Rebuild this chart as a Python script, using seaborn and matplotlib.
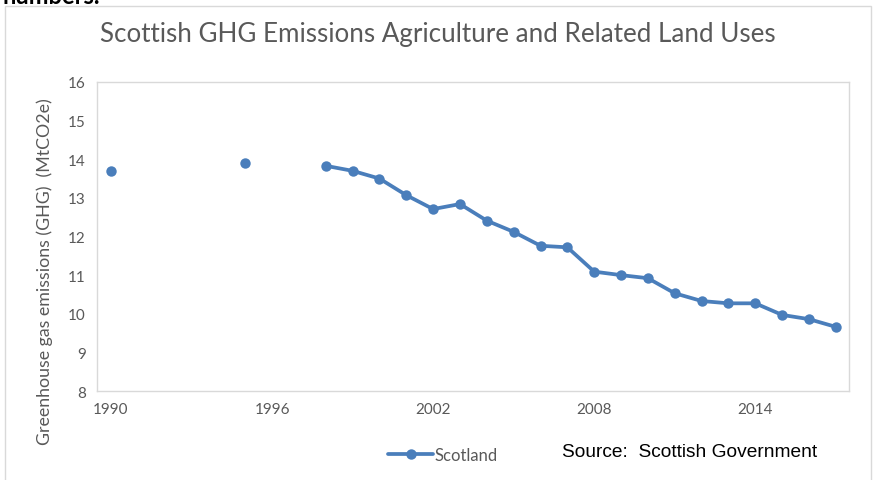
import numpy as np
import pandas as pd
import matplotlib
matplotlib.use("Agg")
import matplotlib.pyplot as plt
from matplotlib.lines import Line2D
from matplotlib.patches import Rectangle
import seaborn as sns

years = [1990, 1995, 1998, 1999, 2000, 2001, 2002, 2003, 2004, 2005, 2006, 2007,
         2008, 2009, 2010, 2011, 2012, 2013, 2014, 2015, 2016, 2017]
emissions = [13.70, 13.90, 13.83, 13.70, 13.50, 13.07, 12.71, 12.84, 12.41, 12.12, 11.76, 11.72,
             11.09, 11.00, 10.92, 10.53, 10.33, 10.27, 10.27, 9.97, 9.86, 9.66]
x_ticks = [1990, 1996, 2002, 2008, 2014]
y_ticks = [8, 9, 10, 11, 12, 13, 14, 15, 16]
series_name = "Scotland"

df = pd.DataFrame({"year": years, "value": emissions})
# break the line where years are missing
df["segment"] = (df["year"].diff().fillna(1) != 1).cumsum()

sns.set_theme(style="white")
plt.rcParams["font.family"] = ["Lato", "DejaVu Sans"]

BLUE = "#4A7EBB"
GRAY = "#595959"

fig = plt.figure(figsize=(8.75, 4.81), dpi=100)
ax = fig.add_axes([97/875, 1-392/481, (849-97)/875, (392-83)/481])

sns.lineplot(data=df, x="year", y="value", units="segment", estimator=None,
             color=BLUE, linewidth=2.7, marker="o", markersize=7.5,
             markeredgewidth=0, ax=ax, legend=False)

ax.set_xlim(1989.48, 2017.49)
ax.set_ylim(8, 16)
ax.set_xticks(x_ticks)
ax.set_yticks(y_ticks)
ax.set_xlabel("")
ax.set_ylabel("")
ax.tick_params(axis="both", length=0, labelsize=11, colors=GRAY, pad=8)
for s in ax.spines.values():
    s.set_color("#D9D9D9")
    s.set_linewidth(1)

fig.text(45/875, 1-272/481, "Greenhouse gas emissions (GHG)  (MtCO2e)", rotation=90,
         ha="center", va="center", fontsize=12.8, color=GRAY)
fig.text(438/875, 1-42/481, "Scottish GHG Emissions Agriculture and Related Land Uses",
         ha="center", va="baseline", fontsize=18.7, color=GRAY)
fig.text(562/875, 1-453/481, "Source:  Scottish Government", ha="left", va="center",
         fontsize=13.8, color="black", family=["Liberation Sans", "DejaVu Sans"])

handle = Line2D([], [], color=BLUE, linewidth=2.7, marker="o", markersize=7.5,
                markeredgewidth=0)
fig.legend([handle], [series_name], loc="center", bbox_to_anchor=(443/875, 1-456/481),
           frameon=False, fontsize=12, labelcolor=GRAY, handlelength=2.7,
           handletextpad=0.1)

# outer chart border
fig.patches.append(Rectangle((5/875, -0.01), 866/875, 1-7/481+0.01, transform=fig.transFigure,
                             fill=False, edgecolor="#D9D9D9", linewidth=1))
fig.text(2/875, 1+4/481, "numbers.", ha="left", va="center", fontsize=17,
         color="black", fontweight="bold")

fig.savefig("out.png", dpi=100)
